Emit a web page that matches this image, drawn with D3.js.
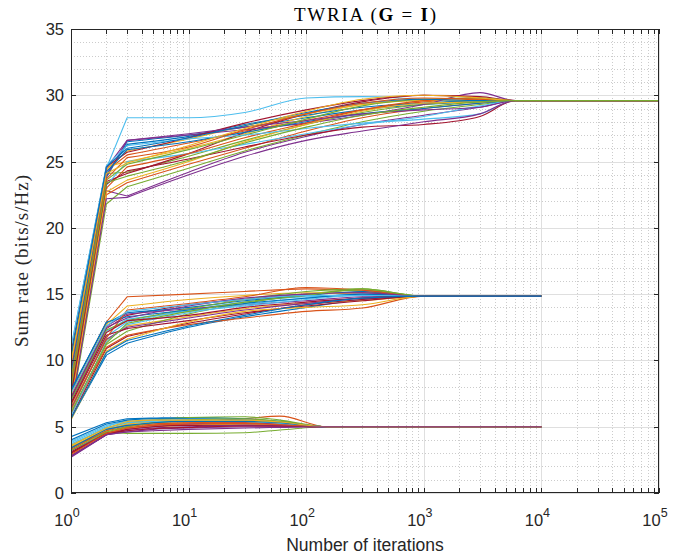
<!DOCTYPE html>
<html>
<head>
<meta charset="utf-8">
<script src="https://cdn.jsdelivr.net/npm/d3@7"></script>
<style>
  body { margin: 0; background: #fff; }
</style>
</head>
<body>
<div id="chart"></div>
<script>
// ---- Data ----
const title = "TWRIA";
const xLabel = "Number of iterations";
const yLabel = "Sum rate (bits/s/Hz)";
const yTicks = [0, 5, 10, 15, 20, 25, 30, 35];
const xTickExp = [0, 1, 2, 3, 4, 5];
const lineColours = ["#0072BD", "#D95319", "#EDB120", "#7E2F8E", "#77AC30", "#4DBEEE", "#A2142F"];

// upper group (iterations)
const topIters = [1, 2, 3, 10, 30, 100, 300, 1000, 3000, 6000, 100000];
const topRates = [
  [7.2, 23.8, 26.5, 27.0, 27.6, 28.3, 28.9, 29.3, 29.5, 29.6, 29.6],
  [9.5, 24.3, 25.5, 26.4, 27.3, 28.1, 28.9, 29.5, 29.7, 29.6, 29.6],
  [8.1, 24.6, 25.0, 26.0, 27.1, 28.4, 29.3, 29.6, 29.6, 29.6, 29.6],
  [6.4, 22.8, 22.4, 24.2, 25.7, 26.9, 27.8, 28.5, 29.1, 29.6, 29.6],
  [10.2, 24.1, 24.2, 25.4, 26.6, 27.8, 28.7, 29.3, 29.6, 29.6, 29.6],
  [11.0, 24.5, 28.3, 28.3, 28.7, 29.8, 29.9, 29.7, 29.6, 29.6, 29.6],
  [7.8, 23.5, 24.1, 25.6, 27.2, 28.6, 29.5, 30.0, 29.8, 29.6, 29.6],
  [8.8, 24.0, 26.3, 26.9, 27.8, 28.5, 29.1, 29.4, 29.6, 29.6, 29.6],
  [6.9, 22.5, 23.4, 24.8, 26.0, 27.3, 28.3, 29.0, 29.4, 29.6, 29.6],
  [9.9, 24.4, 25.8, 26.7, 27.7, 28.6, 29.3, 29.7, 29.6, 29.6, 29.6],
  [7.5, 23.9, 26.6, 27.0, 27.4, 27.9, 28.5, 29.3, 30.2, 29.6, 29.6],
  [6.1, 21.8, 23.1, 24.5, 25.8, 27.0, 28.0, 28.8, 29.3, 29.6, 29.6],
  [8.4, 23.2, 25.0, 25.6, 26.3, 27.1, 27.8, 28.4, 29.2, 29.6, 29.6],
  [10.6, 24.6, 25.7, 26.8, 27.9, 28.9, 29.6, 30.0, 29.9, 29.6, 29.6],
  [9.1, 24.2, 25.9, 26.5, 27.2, 28.0, 28.6, 29.0, 29.4, 29.6, 29.6],
  [7.0, 23.0, 24.6, 25.6, 26.8, 27.9, 28.9, 29.6, 29.8, 29.6, 29.6],
  [6.7, 22.7, 23.6, 25.0, 26.5, 27.8, 28.8, 29.4, 29.5, 29.6, 29.6],
  [9.3, 24.5, 26.6, 27.1, 27.6, 28.1, 28.6, 28.9, 29.1, 29.6, 29.6],
  [8.6, 23.6, 24.8, 25.9, 27.0, 28.2, 29.2, 29.7, 29.8, 29.6, 29.6],
  [10.9, 24.7, 26.2, 26.7, 27.0, 27.5, 27.9, 28.2, 28.6, 29.6, 29.6],
  [7.4, 23.3, 24.3, 25.2, 26.1, 27.0, 27.6, 27.8, 28.4, 29.6, 29.6],
  [10.3, 24.6, 26.0, 26.8, 27.7, 28.7, 29.4, 29.7, 29.6, 29.6, 29.6],
  [8.2, 23.7, 25.3, 26.1, 27.4, 28.6, 29.4, 29.8, 29.7, 29.6, 29.6],
  [9.7, 24.1, 24.9, 26.2, 27.5, 28.8, 29.7, 30.0, 29.8, 29.6, 29.6],
  [6.3, 22.2, 22.3, 24.0, 25.4, 26.6, 27.3, 28.0, 28.6, 29.6, 29.6],
  [7.9, 23.4, 23.9, 25.1, 26.4, 27.6, 28.5, 29.1, 29.5, 29.6, 29.6]
];

// middle group
const midIters = [1, 2, 3, 10, 30, 100, 300, 1000, 10000];
const midRates = [
  [6.2, 11.8, 12.9, 13.8, 14.4, 14.8, 14.9, 14.85, 14.85],
  [7.1, 12.4, 13.4, 14.2, 14.6, 15.0, 15.1, 14.85, 14.85],
  [5.6, 10.4, 11.3, 12.5, 13.3, 14.0, 14.6, 14.85, 14.85],
  [7.6, 12.9, 14.8, 15.0, 15.2, 15.4, 15.2, 14.85, 14.85],
  [6.6, 11.5, 12.6, 13.3, 13.9, 14.3, 14.5, 14.85, 14.85],
  [7.3, 12.6, 13.5, 13.9, 14.2, 14.5, 14.8, 14.85, 14.85],
  [5.9, 11.2, 12.2, 13.5, 14.3, 15.0, 15.3, 14.85, 14.85],
  [6.9, 12.2, 13.1, 13.7, 14.1, 14.6, 14.9, 14.85, 14.85],
  [5.7, 10.9, 11.8, 12.8, 13.5, 14.2, 14.6, 14.85, 14.85],
  [7.8, 12.8, 13.6, 14.0, 14.5, 14.9, 15.2, 14.85, 14.85],
  [6.0, 11.0, 11.9, 12.7, 13.2, 13.7, 13.95, 14.85, 14.85],
  [7.4, 12.7, 14.1, 14.6, 14.9, 15.1, 15.0, 14.85, 14.85],
  [6.4, 11.6, 12.5, 13.2, 13.8, 14.3, 14.7, 14.85, 14.85],
  [7.0, 12.3, 13.0, 13.9, 14.6, 15.2, 15.4, 14.85, 14.85],
  [5.8, 11.4, 12.7, 13.6, 14.2, 14.7, 15.0, 14.85, 14.85],
  [6.7, 11.9, 12.4, 13.0, 13.6, 14.1, 14.5, 14.85, 14.85],
  [7.7, 12.9, 13.3, 13.8, 14.3, 14.7, 15.0, 14.85, 14.85],
  [6.3, 11.7, 13.8, 14.3, 14.8, 15.5, 15.3, 14.85, 14.85],
  [5.5, 10.7, 11.6, 12.9, 13.7, 14.0, 14.2, 14.85, 14.85],
  [7.2, 12.5, 13.2, 14.1, 14.7, 15.0, 15.1, 14.85, 14.85],
  [6.1, 11.3, 12.8, 13.7, 14.4, 14.9, 15.4, 14.85, 14.85],
  [7.5, 12.6, 13.7, 14.2, 14.6, 14.9, 14.9, 14.85, 14.85],
  [6.8, 12.1, 13.0, 13.4, 14.0, 14.4, 14.7, 14.85, 14.85],
  [5.6, 10.6, 11.5, 12.6, 13.4, 14.2, 14.7, 14.85, 14.85]
];

// lower group
const lowIters = [1, 2, 3, 5, 10, 30, 60, 150, 10000];
const lowRates = [
  [3.0, 4.5, 5.0, 5.3, 5.4, 5.6, 5.8, 5.0, 5.0],
  [3.3, 4.7, 5.2, 5.4, 5.5, 5.4, 5.2, 5.0, 5.0],
  [2.7, 4.4, 4.6, 4.8, 4.9, 5.0, 5.0, 5.0, 5.0],
  [3.5, 4.6, 4.5, 4.5, 4.5, 4.55, 4.75, 5.0, 5.0],
  [3.8, 5.0, 5.5, 5.6, 5.6, 5.5, 5.3, 5.0, 5.0],
  [3.1, 4.5, 4.9, 5.1, 5.2, 5.2, 5.1, 5.0, 5.0],
  [4.25, 5.3, 5.6, 5.65, 5.7, 5.6, 5.4, 5.0, 5.0],
  [3.4, 4.8, 5.1, 5.2, 5.3, 5.3, 5.2, 5.0, 5.0],
  [2.9, 4.6, 4.9, 5.0, 5.1, 5.2, 5.15, 5.0, 5.0],
  [3.2, 4.5, 4.8, 5.0, 5.2, 5.3, 5.2, 5.0, 5.0],
  [3.6, 4.9, 5.3, 5.5, 5.7, 5.75, 5.5, 5.0, 5.0],
  [3.9, 5.1, 5.4, 5.5, 5.5, 5.45, 5.3, 5.0, 5.0],
  [2.8, 4.4, 4.8, 5.0, 5.1, 5.1, 5.05, 5.0, 5.0],
  [4.0, 5.2, 5.5, 5.6, 5.6, 5.5, 5.3, 5.0, 5.0],
  [3.3, 4.7, 5.0, 5.2, 5.3, 5.35, 5.25, 5.0, 5.0],
  [3.5, 4.8, 5.2, 5.35, 5.4, 5.4, 5.3, 5.0, 5.0],
  [2.75, 4.4, 4.7, 4.9, 5.0, 5.1, 5.1, 5.0, 5.0],
  [3.2, 4.6, 5.0, 5.3, 5.5, 5.6, 5.4, 5.0, 5.0],
  [3.7, 4.9, 5.3, 5.4, 5.45, 5.4, 5.25, 5.0, 5.0],
  [3.0, 4.5, 4.7, 4.85, 4.95, 5.05, 5.05, 5.0, 5.0],
  [3.4, 4.8, 5.1, 5.3, 5.4, 5.4, 5.3, 5.0, 5.0],
  [2.9, 4.5, 4.9, 5.1, 5.2, 5.25, 5.15, 5.0, 5.0],
  [3.6, 4.9, 5.4, 5.5, 5.5, 5.5, 5.35, 5.0, 5.0],
  [2.8, 4.4, 4.6, 4.7, 4.8, 4.9, 4.95, 5.0, 5.0]
];

// ---- Layout ----
const W = 699, H = 559;
const pL = 71, pR = 659, pT = 29, pB = 493;

const svg = d3.select("#chart").append("svg").attr("width", W).attr("height", H);

const x = d3.scaleLog().domain([1, 1e5]).range([pL, pR]);
const y = d3.scaleLinear().domain([0, 35]).range([pB, pT]);

// minor/major positions
const majorX = xTickExp.map(e => Math.pow(10, e));
const minorX = [];
xTickExp.slice(0, -1).forEach(e => { for (let k = 2; k <= 9; k++) minorX.push(k * Math.pow(10, e)); });
const minorY = d3.range(0, 36).filter(v => v % 5 !== 0);

// Minor grid (dotted)
const grid = svg.append("g");
grid.selectAll(".mgx").data(minorX).enter().append("line")
  .attr("x1", d => Math.round(x(d)) + 0.5).attr("x2", d => Math.round(x(d)) + 0.5)
  .attr("y1", pT).attr("y2", pB)
  .attr("stroke", "#cccccc").attr("stroke-width", 1).attr("stroke-dasharray", "1,2");
grid.selectAll(".mgy").data(minorY).enter().append("line")
  .attr("y1", d => Math.round(y(d)) + 0.5).attr("y2", d => Math.round(y(d)) + 0.5)
  .attr("x1", pL).attr("x2", pR)
  .attr("stroke", "#cccccc").attr("stroke-width", 1).attr("stroke-dasharray", "1,2");

// Major grid (solid light)
grid.selectAll(".gx").data(majorX).enter().append("line")
  .attr("x1", d => Math.round(x(d)) + 0.5).attr("x2", d => Math.round(x(d)) + 0.5)
  .attr("y1", pT).attr("y2", pB)
  .attr("stroke", "#dfdfdf").attr("stroke-width", 1);
grid.selectAll(".gy").data(yTicks).enter().append("line")
  .attr("y1", d => Math.round(y(d)) + 0.5).attr("y2", d => Math.round(y(d)) + 0.5)
  .attr("x1", pL).attr("x2", pR)
  .attr("stroke", "#dfdfdf").attr("stroke-width", 1);

// Clip for the curves
svg.append("clipPath").attr("id", "clip").append("rect")
  .attr("x", pL).attr("y", pT).attr("width", pR - pL).attr("height", pB - pT);

// first iterations are straight segments, the rest is smooth
const firstSeg = (iters) => d3.line().x((d, i) => x(iters[i])).y(d => y(d));
const restSeg = (iters) => d3.line().x((d, i) => x(iters[i + 2])).y(d => y(d)).curve(d3.curveMonotoneX);

// Draw all curves, colours cycling in plot order
const plot = svg.append("g").attr("clip-path", "url(#clip)");
let count = 0;
[[topIters, topRates], [midIters, midRates], [lowIters, lowRates]].forEach(([iters, rates]) => {
  rates.forEach(r => {
    const col = lineColours[count % lineColours.length];
    const d = firstSeg(iters)(r.slice(0, 3)) + restSeg(iters)(r.slice(2)).replace(/^M[^A-Za-z]*/, "");
    plot.append("path").attr("d", d)
      .attr("fill", "none").attr("stroke", col)
      .attr("stroke-width", 1.1).attr("stroke-linejoin", "round");
    count++;
  });
});

// Axes box and inward ticks
const axisCol = "#262626";
const tickLen = 5;
const axes = svg.append("g");
axes.append("rect").attr("x", pL + 0.5).attr("y", pT + 0.5)
  .attr("width", pR - pL - 1).attr("height", pB - pT - 1)
  .attr("fill", "none").attr("stroke", axisCol).attr("stroke-width", 1);

majorX.concat(minorX).forEach(v => {
  const px = Math.round(x(v)) + 0.5;
  axes.append("line").attr("x1", px).attr("x2", px).attr("y1", pB).attr("y2", pB - tickLen).attr("stroke", axisCol);
  axes.append("line").attr("x1", px).attr("x2", px).attr("y1", pT).attr("y2", pT + tickLen).attr("stroke", axisCol);
});
yTicks.forEach(v => {
  const py = Math.round(y(v)) + 0.5;
  axes.append("line").attr("x1", pL).attr("x2", pL + tickLen).attr("y1", py).attr("y2", py).attr("stroke", axisCol);
  axes.append("line").attr("x1", pR).attr("x2", pR - tickLen).attr("y1", py).attr("y2", py).attr("stroke", axisCol);
});

// Tick labels
const sans = "'Liberation Sans', Arial, Helvetica, sans-serif";
const serif = "'Liberation Serif', 'DejaVu Serif', 'Times New Roman', serif";

axes.selectAll(".yl").data(yTicks).enter().append("text")
  .attr("x", pL - 7).attr("y", d => y(d) + 6)
  .attr("text-anchor", "end").attr("font-family", sans).attr("font-size", 16.5)
  .attr("fill", axisCol).text(d => d);

xTickExp.forEach(e => {
  const t = axes.append("text").attr("x", x(Math.pow(10, e)) - 4).attr("y", pB + 33)
    .attr("text-anchor", "middle").attr("font-family", sans).attr("font-size", 16.5).attr("fill", axisCol);
  t.append("tspan").text("10");
  t.append("tspan").attr("dy", -9).attr("font-size", 12.5).text(e);
});

// Axis labels
svg.append("text").attr("x", (pL + pR) / 2).attr("y", 551)
  .attr("text-anchor", "middle").attr("font-family", sans).attr("font-size", 17.5)
  .attr("fill", axisCol).text(xLabel);

svg.append("text").attr("transform", "translate(28," + (pT + pB) / 2 + ") rotate(-90)")
  .attr("text-anchor", "middle").attr("font-family", serif).attr("font-size", 19)
  .attr("textLength", 172).attr("lengthAdjust", "spacing")
  .attr("fill", axisCol).text(yLabel);

// Title: TWRIA (G = I) with bold G and I
const tt = svg.append("text").attr("x", (pL + pR) / 2).attr("y", 21)
  .attr("text-anchor", "middle").attr("font-family", serif).attr("font-size", 19)
  .attr("textLength", 142).attr("lengthAdjust", "spacing").attr("fill", "#000");
tt.append("tspan").text(title + " (");
tt.append("tspan").attr("font-weight", "bold").text("G");
tt.append("tspan").text(" = ");
tt.append("tspan").attr("font-weight", "bold").text("I");
tt.append("tspan").text(")");
</script>
</body>
</html>
